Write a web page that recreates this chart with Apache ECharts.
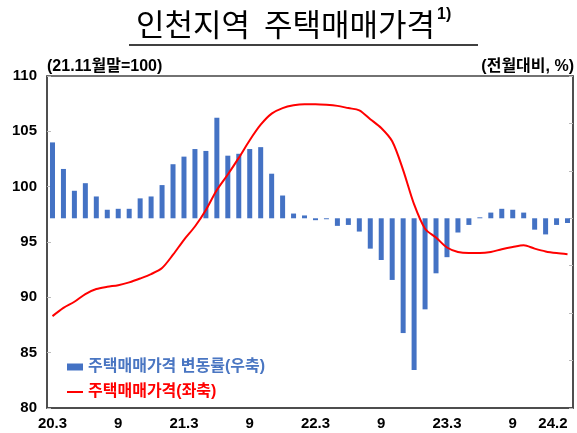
<!DOCTYPE html>
<html>
<head>
<meta charset="utf-8">
<script src="https://cdn.jsdelivr.net/npm/echarts@6/dist/echarts.min.js"></script>
<style>
  html, body { margin: 0; padding: 0; background: #fff; }
  #chart { width: 577px; height: 433px; }
</style>
</head>
<body>
<div id="chart"></div>
<script>
  // 월별 (20.3 ~ 24.2)
  var months = [
    '20.3','20.4','20.5','20.6','20.7','20.8','20.9','20.10','20.11','20.12',
    '21.1','21.2','21.3','21.4','21.5','21.6','21.7','21.8','21.9','21.10','21.11','21.12',
    '22.1','22.2','22.3','22.4','22.5','22.6','22.7','22.8','22.9','22.10','22.11','22.12',
    '23.1','23.2','23.3','23.4','23.5','23.6','23.7','23.8','23.9','23.10','23.11','23.12',
    '24.1','24.2'
  ];
  // 주택매매가격 (좌축, 21.11월말=100)
  var priceIndex = [
    88.3, 89.05, 89.6, 90.3, 90.75, 90.95, 91.1, 91.35, 91.7, 92.1,
    92.65, 93.85, 95.2, 96.4, 97.9, 99.7, 101.1, 102.6, 104.2, 105.6, 106.6, 107.1,
    107.35, 107.45, 107.45, 107.4, 107.3, 107.1, 106.9, 106.1, 105.3, 104.1, 101.5, 98.4,
    96.2, 95.4, 94.5, 94.1, 94.0, 94.0, 94.1, 94.35, 94.55, 94.7, 94.4, 94.15,
    94.0, 93.9
  ];
  // 주택매매가격 변동률 (우축, 전월대비 %)
  var priceChange = [
    0.80, 0.52, 0.29, 0.37, 0.23, 0.09, 0.10, 0.10, 0.21, 0.23,
    0.35, 0.57, 0.65, 0.73, 0.71, 1.06, 0.66, 0.68, 0.73, 0.75, 0.47, 0.24,
    0.05, 0.03, -0.02, -0.01, -0.08, -0.07, -0.14, -0.32, -0.44, -0.65, -1.21, -1.60,
    -0.96, -0.58, -0.41, -0.15, -0.07, 0.01, 0.06, 0.10, 0.09, 0.06, -0.12, -0.17,
    -0.07, -0.05
  ];
  var leftTicks = { min: 80, max: 110, step: 5 };
  var rightTicks = { min: -2, max: 1.5, step: 0.5 };

  var barName = '주택매매가격 변동률(우축)';
  var lineName = '주택매매가격(좌축)';
  var FONT = '"Liberation Sans", "Noto Sans CJK KR", sans-serif';

  // 20.3, 9, 21.3 ... 식으로 6개월마다 + 마지막 24.2
  function showLabel(i) {
    return i % 6 === 0 || i === months.length - 1;
  }

  var chart = echarts.init(document.getElementById('chart'));
  chart.setOption({
    animation: false,
    textStyle: { fontFamily: FONT },
    title: {
      text: '{a|인천지역  주택매매가격}{s|1)}',
      left: 131,
      top: 2,
      textStyle: {
        rich: {
          a: { fontSize: 31, color: '#000', fontFamily: '"Noto Sans CJK KR", sans-serif', fontWeight: 'normal' },
          s: { fontSize: 16, color: '#000', fontFamily: FONT, verticalAlign: 'top', padding: [0, 0, 18, 2] }
        }
      }
    },
    graphic: [
      { type: 'line', shape: { x1: 129, y1: 45, x2: 478, y2: 45 }, style: { stroke: '#000', lineWidth: 1.5 } },
      { type: 'text', left: 47, top: 59, style: { text: '(21.11월말=100)', font: 'bold 16px ' + FONT, fill: '#000' } },
      { type: 'text', right: 3, top: 59, style: { text: '(전월대비, %)', font: 'bold 16px ' + FONT, fill: '#000' } }
    ],
    legend: {
      orient: 'vertical',
      left: 62,
      top: 354,
      itemWidth: 16,
      itemHeight: 7,
      itemGap: 9,
      textStyle: { fontSize: 16, fontWeight: 'bold', fontFamily: FONT },
      data: [
        { name: barName, icon: 'rect', textStyle: { color: '#4a76c2' } },
        { name: lineName, icon: 'path://M0,0 L16,0 L16,2 L0,2 Z', textStyle: { color: '#ff0000' } }
      ]
    },
    grid: {
      left: 47, right: 4, top: 76, bottom: 25,
      show: true, borderColor: '#444', borderWidth: 1.5
    },
    xAxis: {
      type: 'category',
      data: months,
      boundaryGap: true,
      axisLine: { onZero: false, lineStyle: { color: '#444', width: 1.5 } },
      axisTick: { inside: true, length: 4, lineStyle: { color: '#bbb' }, interval: function (i) { return i % 6 === 0; } },
      axisLabel: {
        interval: function (i) { return showLabel(i); },
        formatter: function (v, i) {
          var m = v.split('.')[1];
          if (i === months.length - 1) return v;
          return m === '3' ? v : m;
        },
        alignMaxLabel: 'right',
        color: '#000', fontSize: 15, fontWeight: 'bold', margin: 8
      }
    },
    yAxis: [
      {
        type: 'value',
        min: leftTicks.min, max: leftTicks.max, interval: leftTicks.step,
        splitLine: { show: false },
        axisLine: { show: true, lineStyle: { color: '#444', width: 1.5 } },
        axisTick: { show: true, inside: true, length: 4, lineStyle: { color: '#bbb' } },
        axisLabel: { color: '#000', fontSize: 15, fontWeight: 'bold', margin: 10 }
      },
      {
        type: 'value',
        min: rightTicks.min, max: rightTicks.max, interval: rightTicks.step,
        splitLine: { show: false },
        axisLine: { show: true, lineStyle: { color: '#444', width: 1.5 } },
        axisTick: { show: true, inside: true, length: 4, lineStyle: { color: '#bbb' } },
        axisLabel: { show: false }
      }
    ],
    series: [
      {
        name: barName,
        type: 'bar',
        yAxisIndex: 1,
        data: priceChange,
        barWidth: 5,
        itemStyle: { color: '#4472c4' }
      },
      {
        name: lineName,
        type: 'line',
        yAxisIndex: 0,
        data: priceIndex,
        smooth: 0.3,
        symbol: 'none',
        lineStyle: { color: '#ff0000', width: 2 },
        itemStyle: { color: '#ff0000' },
        z: 3
      }
    ]
  });
</script>
</body>
</html>
